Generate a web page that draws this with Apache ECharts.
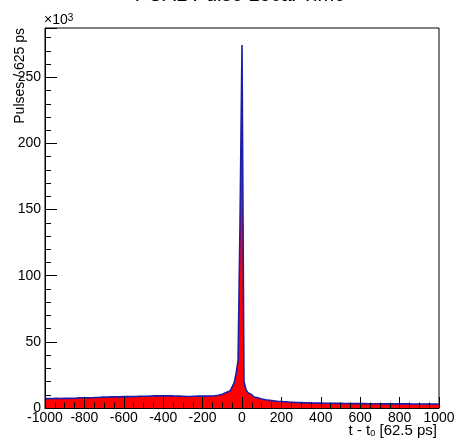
<!DOCTYPE html>
<html><head><meta charset="utf-8">
<script src="https://cdn.jsdelivr.net/npm/echarts@6/dist/echarts.min.js"></script>
<style>html,body{margin:0;padding:0;background:#fff}#c{width:456px;height:443px}</style>
</head><body><div id="c"></div>
<script>
const chartTitle = 'PCAL Pulse Local Time';
const yTitle = 'Pulses / 625 ps';
const yMultiplier = '{a|×10}{b|3}';
const xTitle = '{a|t - t}{s|0}{a| [62.5 ps]}';

// histogram: 200 bins of width 10 from -1000 to 1000 (values in thousands of pulses)
const binStart = -1000;
const binWidth = 10;
const countsLeft = [ // bins -1000 ... -10
  7.0,7.1,7.0,7.2,7.1,7.3,7.2,7.2,7.4,7.3,
  7.4,7.3,7.5,7.4,7.6,7.5,7.5,7.7,7.6,7.7,
  7.8,7.7,7.9,7.8,8.0,7.9,8.1,8.0,8.1,8.2,
  8.2,8.3,8.2,8.4,8.3,8.4,8.5,8.4,8.5,8.6,
  8.5,8.6,8.7,8.6,8.8,8.7,8.8,8.9,8.8,8.9,
  9.0,8.9,9.0,9.1,9.0,9.2,9.1,9.2,9.3,9.2,
  9.3,9.2,9.1,9.2,9.0,9.1,8.9,9.0,8.8,8.9,
  8.8,8.7,8.8,8.7,8.8,8.9,8.8,9.0,8.9,9.1,
  8.9,9.0,9.0,9.1,9.2,9.3,9.5,9.7,10.0,10.4,
  11.0,11.8,12.3,13.0,14.5,16.0,19.0,26.0,36.0,140.0
];
const countsRight = [ // bins 0 ... 990
  274.4,20.0,14.0,11.5,10.0,9.0,8.3,7.7,7.2,6.8,
  6.5,6.2,6.0,5.8,5.6,5.4,5.3,5.1,5.0,4.9,
  4.8,4.7,4.6,4.5,4.4,4.4,4.3,4.2,4.2,4.1,
  4.0,4.0,3.9,3.9,3.8,3.8,3.8,3.7,3.7,3.7,
  3.7,3.6,3.6,3.6,3.6,3.5,3.5,3.5,3.5,3.5,
  3.5,3.4,3.4,3.4,3.4,3.4,3.3,3.3,3.3,3.3,
  3.3,3.3,3.3,3.2,3.2,3.2,3.2,3.2,3.2,3.2,
  3.2,3.1,3.1,3.1,3.1,3.1,3.1,3.1,3.1,3.1,
  3.1,3.1,3.0,3.1,3.0,3.0,3.0,3.0,3.0,3.0,
  3.0,3.0,3.0,2.9,3.0,3.0,2.9,3.0,2.9,3.0
];
const xMin = -1000, xMax = 1000, xMajor = 200;
const yMin = 0, yMax = 287.3, yMajor = 50, yMinor = 10;

const counts = countsLeft.concat(countsRight);
// histogram outline: each bin contributes its low and high edge at the bin's count
const histData = [];
counts.forEach((v, i) => {
  const lo = binStart + i * binWidth;
  histData.push([lo, v], [lo + binWidth, v]);
});

const FONT = '"Liberation Sans", Arial, Helvetica, sans-serif';
const chart = echarts.init(document.getElementById('c'), null, {renderer: 'canvas'});
chart.setOption({
  animation: false,
  backgroundColor: '#fff',
  grid: {left: 45, right: 17, top: 28, bottom: 35, show: true, borderColor: '#000', borderWidth: 1,
         backgroundColor: 'transparent', outerBoundsMode: 'none', containLabel: false},
  xAxis: {
    type: 'value', min: xMin, max: xMax, interval: xMajor, z: 10,
    axisLine: {onZero: false, lineStyle: {color: '#000', width: 1}},
    axisTick: {inside: true, length: 11, lineStyle: {color: '#000', width: 1}},
    minorTick: {show: true, splitNumber: 4, length: 5.5, lineStyle: {color: '#000', width: 1}},
    axisLabel: {color: '#000', fontSize: 14, fontFamily: FONT, margin: 3, formatter: v => String(v)},
    splitLine: {show: false}, minorSplitLine: {show: false}
  },
  yAxis: [{
    type: 'value', min: yMin, max: yMax, interval: yMajor, z: 10,
    axisLine: {onZero: false, lineStyle: {color: '#000', width: 1}},
    axisTick: {inside: true, length: 12, lineStyle: {color: '#000', width: 1}},
    axisLabel: {color: '#000', fontSize: 14, fontFamily: FONT, margin: 4,
      formatter: v => (Math.abs(v % yMajor) < 1e-6 ? String(v) : '')},
    splitLine: {show: false}
  }, {
    type: 'value', min: yMin, max: yMax, interval: yMinor, z: 10, position: 'left',
    axisLine: {show: false, onZero: false},
    axisTick: {inside: true, length: 6, lineStyle: {color: '#000', width: 1}},
    axisLabel: {show: false},
    splitLine: {show: false}
  }],
  series: [{
    type: 'line', data: histData, yAxisIndex: 0,
    symbol: 'none', showSymbol: false, smooth: false,
    lineStyle: {color: '#1c1caa', width: 1.6},
    areaStyle: {color: '#ff0000', opacity: 1},
    z: 2
  }],
  graphic: [
    {type: 'text', x: 240, y: -5, style: {text: chartTitle, fontSize: 20, fontFamily: FONT, fill: '#000',
      textAlign: 'center', textVerticalAlign: 'middle'}},
    {type: 'text', x: 20.5, y: 28, rotation: Math.PI / 2, style: {text: yTitle, fontSize: 14, fontFamily: FONT,
      fill: '#000', textAlign: 'right', textVerticalAlign: 'middle'}},
    {type: 'text', x: 44, y: 27, style: {text: yMultiplier, fill: '#000', textAlign: 'left', textVerticalAlign: 'bottom',
      rich: {a: {fontSize: 14, fontFamily: FONT, lineHeight: 14, verticalAlign: 'bottom', fill: '#000'},
             b: {fontSize: 10, fontFamily: FONT, lineHeight: 10, padding: [0, 0, 8, 0], verticalAlign: 'top', fill: '#000'}}}},
    {type: 'text', x: 437, y: 423, style: {text: xTitle, fill: '#000', textAlign: 'right', textVerticalAlign: 'top',
      rich: {a: {fontSize: 15, fontFamily: FONT, lineHeight: 15, verticalAlign: 'top', fill: '#000'},
             s: {fontSize: 9, fontFamily: FONT, lineHeight: 9, padding: [10, 0, 0, 0], verticalAlign: 'bottom', fill: '#000'}}}}
  ]
});
</script>
</body></html>
